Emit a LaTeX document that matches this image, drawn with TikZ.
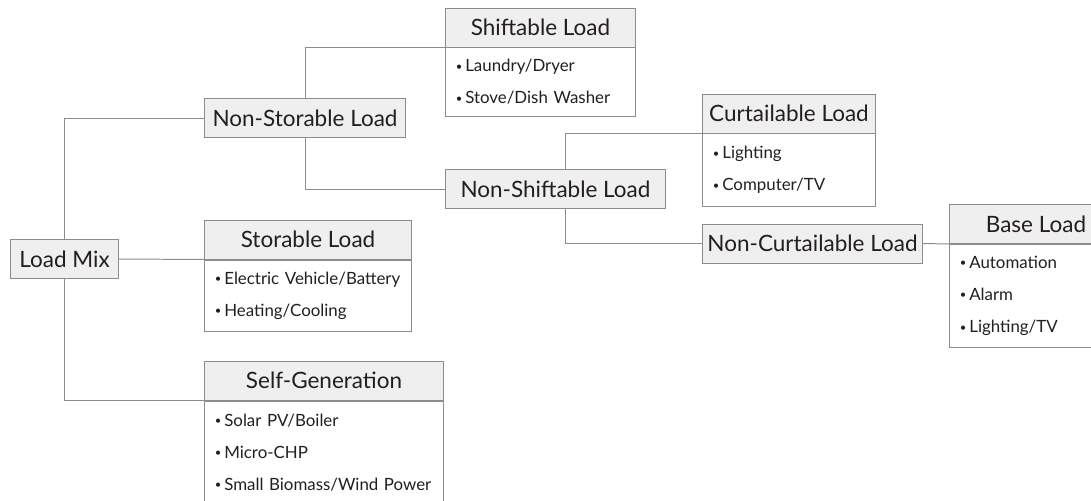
\documentclass[tikz,border=0pt]{standalone}
\usepackage{fontspec}
\setmainfont{Lato}
\usetikzlibrary{positioning}
\definecolor{lncol}{HTML}{8C8C8C}
\definecolor{hdfill}{HTML}{EFEFEF}
\definecolor{txt}{HTML}{231F20}
\newcommand{\itm}[1]{{\fontsize{8}{8}\selectfont\raisebox{0.3ex}{\textbullet}}\,#1}

\begin{document}
\begin{tikzpicture}[x=0.025cm,y=-0.025cm,line width=0.7pt,
 hd/.style={draw=lncol,fill=hdfill,text=txt,font=\fontsize{16}{19}\selectfont,minimum height=0.975cm,inner sep=0pt},
 bd/.style={draw=lncol,fill=white,text=txt,font=\fontsize{12}{22.8}\selectfont,align=left,inner xsep=0.25cm,inner ysep=0pt,below=0pt of #1},
 ln/.style={draw=lncol}]
\useasboundingbox (0,0) rectangle (1091,500);
\clip (0,0) rectangle (1091,500);
\node[hd,minimum width=2.675cm] (mix) at (64.5,259) {Load Mix};
\node[hd,minimum width=5cm] (nsl) at (305,118) {Non-Storable Load};
\node[hd,minimum width=4.725cm] (shfh) at (540.5,27.5) {Shiftable Load};
\node[bd=shfh,text width=4.225cm,minimum height=1.7cm] (shfb) {\itm{Laundry/Dryer}\\\itm{Stove/Dish Washer}};
\node[hd,minimum width=5.475cm] (nsh) at (555.5,189) {Non-Shiftable Load};
\node[hd,minimum width=4.3cm] (curh) at (789,113.5) {Curtailable Load};
\node[bd=curh,text width=3.8cm,minimum height=1.8cm] (curb) {\itm{Lighting}\\\itm{Computer/TV}};
\node[hd,minimum width=5.475cm] (ncl) at (812.5,243.5) {Non-Curtailable Load};
\node[hd,minimum width=4.3cm] (baseh) at (1036,224) {Base Load};
\node[bd=baseh,text width=3.8cm,minimum height=2.575cm] (baseb) {\itm{Automation}\\\itm{Alarm}\\\itm{Lighting/TV}};
\node[hd,minimum width=5.15cm] (stoh) at (308,239.5) {Storable Load};
\node[bd=stoh,text width=4.65cm,minimum height=1.775cm] (stob) {\itm{Electric Vehicle/Battery}\\\itm{Heating/Cooling}};
\node[hd,minimum width=5.95cm] (selfh) at (324,380.5) {Self-Generation};
\node[bd=selfh,text width=5.45cm,minimum height=2.575cm] (selfb) {\itm{Solar PV/Boiler}\\\itm{Micro-CHP}\\\itm{Small Biomass/Wind Power}};
% tree links
\draw[ln] (mix.north) |- (nsl.west);
\draw[ln] (mix.east) -- (stoh.south west);
\draw[ln] (mix.south) |- (selfh.south west);
\draw[ln] (nsl.north) |- (shfh.south west);
\draw[ln] (nsl.south) |- (nsh.west);
\draw[ln] ([xshift=0.24cm]nsh.north) |- (curh.south west);
\draw[ln] ([xshift=0.24cm]nsh.south) |- (ncl.west);
\draw[ln] (ncl.east) -- (baseh.south west);
\end{tikzpicture}
\end{document}
